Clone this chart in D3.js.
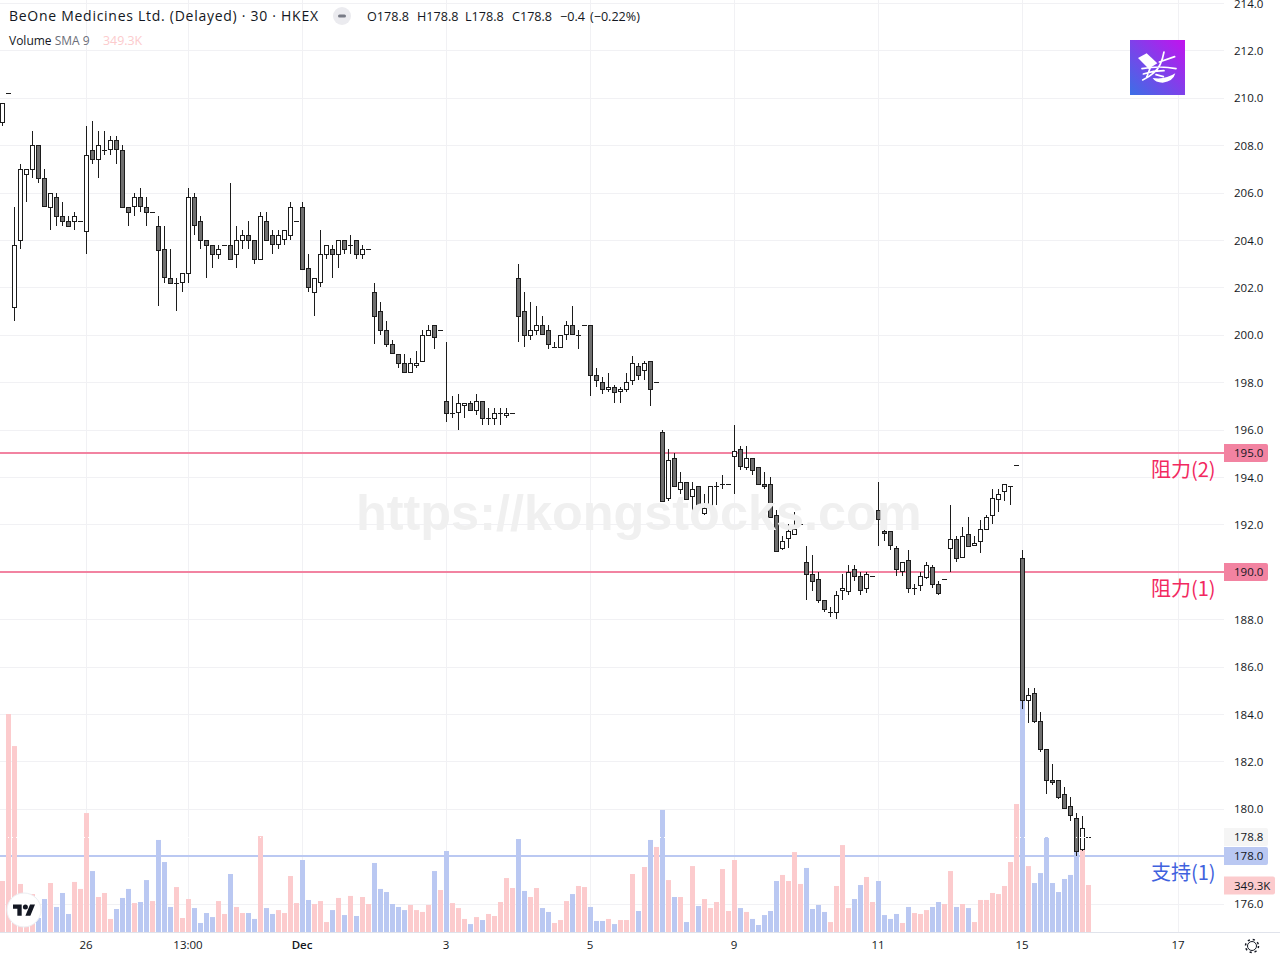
<!DOCTYPE html>
<html>
<head>
<meta charset="utf-8">
<title>BeOne Medicines 30m</title>
<script src="https://cdn.jsdelivr.net/npm/d3@7"></script>
<style>
  html, body { margin: 0; background: #fff; overflow: hidden; }
  text { font-family: "Open Sans", "Noto Sans", sans-serif; }
</style>
</head>
<body>
<script>
// 30 minute bars, index 0..181
const opens = [
  209.0,210.2,201.2,204.0,206.8,207.0,208.0,206.6,205.4,205.8,
  205.0,204.8,204.8,204.8,204.4,207.8,207.4,207.8,207.8,208.2,
  207.8,205.4,205.4,205.8,205.4,205.2,204.6,203.6,202.4,202.2,
  202.2,202.6,205.8,204.8,204.0,203.8,203.4,203.8,203.8,203.4,
  204.0,204.2,204.0,203.2,204.8,204.2,203.8,204.0,204.2,204.8,
  205.4,202.8,201.8,202.2,203.4,203.6,203.4,204.0,203.8,204.0,
  203.4,203.6,201.8,201.0,200.2,199.6,199.2,198.8,198.4,198.7,
  198.9,200.0,200.4,200.2,197.2,196.7,196.7,197.0,197.1,196.8,
  197.2,196.5,196.5,196.7,196.6,196.7,202.4,201.0,200.0,200.2,
  200.4,200.2,199.5,199.5,200.0,200.4,200.0,200.4,200.4,198.3,
  198.0,197.7,197.8,197.6,197.7,198.1,198.7,198.5,198.9,198.0,
  195.9,193.1,194.8,193.5,193.8,193.2,193.6,192.5,192.8,193.6,
  193.7,193.7,194.9,195.2,194.4,194.8,194.4,193.7,193.7,192.4,
  191.0,191.4,191.6,192.0,190.4,189.9,189.7,188.8,188.3,188.3,
  189.2,189.2,190.1,189.8,189.3,189.8,192.6,191.7,191.7,191.0,
  190.0,190.5,189.3,189.4,189.8,190.2,189.5,189.7,191.0,191.4,
  190.6,191.6,191.1,191.3,191.8,192.4,193.1,193.4,193.6,194.5,
  190.6,184.6,184.9,183.7,182.5,181.2,181.2,180.6,180.1,179.6,178.3,178.8
];
const highs = [
  209.8,210.2,205.4,207.2,207.0,208.6,208.0,207.0,206.0,206.0,
  205.6,205.0,205.2,204.8,208.8,209.0,208.6,208.6,208.4,208.4,
  208.0,205.4,206.0,206.2,205.8,205.2,205.0,204.6,203.6,202.4,
  202.6,206.2,206.0,205.0,204.0,203.8,203.8,203.8,206.4,204.6,
  204.4,204.8,204.0,205.2,205.2,204.4,204.4,204.4,205.6,204.8,
  205.6,203.4,202.4,204.4,203.8,203.8,204.0,204.0,204.2,204.0,
  203.8,203.6,202.2,201.4,200.6,199.8,199.2,199.2,199.0,199.3,
  200.2,200.4,200.4,200.2,199.7,197.4,197.5,197.1,197.2,197.5,
  197.2,196.9,196.9,196.9,196.9,196.7,203.0,201.8,201.4,201.2,
  200.8,200.4,199.7,200.0,200.6,201.2,200.2,200.4,200.4,198.6,
  198.2,198.4,197.9,197.8,198.4,199.1,198.8,198.9,198.9,198.0,
  196.0,195.2,195.0,194.2,193.8,193.8,193.6,193.3,193.6,193.8,
  194.1,193.7,196.2,195.3,195.3,194.8,194.4,194.2,194.0,192.6,
  191.5,192.0,192.5,192.0,191.1,190.7,190.0,188.8,188.5,189.2,
  189.9,190.3,190.3,190.0,190.0,189.8,193.8,191.8,191.7,191.1,
  190.4,190.9,189.5,190.0,190.4,190.3,189.6,189.7,192.8,191.5,
  191.9,192.3,191.5,192.2,192.4,193.5,193.5,193.7,193.6,194.5,
  190.9,185.1,185.1,184.1,182.5,181.9,181.2,180.9,180.5,179.8,179.7,178.8
];
const lows = [
  208.8,210.2,200.6,203.6,205.6,206.6,206.4,205.4,204.4,204.6,
  204.6,204.6,204.4,204.8,203.4,207.2,206.6,207.6,207.6,207.2,
  205.4,204.6,205.0,205.2,204.6,205.2,201.2,202.2,202.2,201.0,
  201.8,202.2,204.2,203.6,202.4,202.8,203.2,203.8,203.2,202.8,
  203.6,203.6,203.0,203.2,204.0,203.4,203.6,203.8,204.0,204.8,
  202.8,201.8,200.8,202.0,203.2,202.4,202.8,203.4,203.4,203.2,
  203.2,203.6,199.6,200.0,199.5,199.2,198.6,198.4,198.4,198.6,
  198.9,200.0,199.4,200.2,196.3,196.5,196.0,196.5,196.8,196.6,
  196.2,196.2,196.2,196.2,196.5,196.7,199.7,199.5,199.8,200.0,
  200.0,199.4,199.5,199.5,199.8,200.0,199.4,200.4,197.4,197.8,
  197.5,197.6,197.1,197.1,197.6,197.9,198.1,198.1,197.0,198.0,
  193.0,193.0,193.6,193.3,193.1,192.3,192.6,192.4,192.6,192.8,
  193.5,193.7,193.3,194.3,194.3,194.1,193.7,193.5,192.3,190.9,
  190.9,191.0,191.6,192.0,188.8,189.2,188.7,188.3,188.1,188.0,
  188.8,189.0,189.6,189.0,189.1,189.8,191.1,191.3,190.9,189.8,
  189.8,189.1,189.0,189.2,189.7,189.3,189.0,189.7,190.0,190.4,
  190.6,191.1,191.1,190.8,191.8,192.0,192.5,193.0,192.8,194.5,
  184.2,183.6,183.6,182.4,180.6,181.0,180.4,180.0,179.5,178.0,178.2,178.8
];
const closes = [
  209.8,210.2,203.8,207.0,207.0,208.0,206.6,205.4,206.0,205.0,
  204.8,204.6,205.0,204.8,207.6,207.4,208.0,207.8,208.2,207.8,
  205.4,205.2,205.8,205.4,205.2,205.2,203.6,202.4,202.2,202.2,
  202.6,205.8,204.6,204.0,203.8,203.4,203.6,203.8,203.2,204.0,
  204.2,204.0,203.2,205.0,204.0,203.8,204.2,204.4,205.4,204.8,
  202.8,202.0,202.4,203.4,203.8,203.4,204.0,203.6,203.8,203.4,
  203.6,203.6,200.8,200.2,199.6,199.2,198.8,198.4,198.8,198.8,
  200.0,200.2,199.9,200.2,196.7,196.7,197.1,197.1,196.8,197.2,
  196.5,196.5,196.7,196.7,196.7,196.7,200.8,200.0,200.2,200.4,
  200.0,199.6,199.5,200.0,200.4,200.0,200.0,200.4,198.3,198.1,
  197.7,197.8,197.6,197.7,198.0,198.8,198.3,198.8,197.7,198.0,
  193.0,194.7,193.6,193.8,193.1,193.5,192.8,192.7,193.6,193.6,
  193.7,193.7,195.1,194.5,194.8,194.3,193.7,193.6,192.3,190.9,
  191.3,191.7,191.8,192.0,189.9,189.6,188.8,188.4,188.3,189.0,
  189.3,190.0,189.8,189.2,189.9,189.8,192.2,191.6,191.1,190.1,
  190.4,189.3,189.3,189.8,190.3,189.5,189.1,189.7,191.4,190.6,
  191.5,191.1,191.2,191.8,192.3,193.1,193.3,193.7,193.6,194.5,
  184.6,184.8,183.7,182.5,181.2,181.1,180.5,180.0,179.7,178.2,179.2,178.8
];
// volume in thousands
const volumes = [
  379,1620,1382,357,248,282,104,245,364,186,
  290,134,372,320,884,453,260,290,97,171,
  253,320,215,223,386,230,684,520,186,334,
  104,245,178,67,141,111,230,134,431,186,
  141,141,97,713,178,134,163,141,416,215,
  535,238,208,230,74,163,253,126,268,119,
  260,208,513,320,297,208,186,163,201,163,
  149,201,453,312,602,215,178,97,59,111,
  89,134,119,223,401,327,691,305,260,327,
  178,149,67,89,230,282,342,334,186,82,
  82,97,59,89,89,431,156,483,684,632,
  907,386,260,260,74,490,193,245,178,223,
  468,156,535,178,149,97,52,126,156,379,
  424,379,594,357,476,171,201,149,74,342,
  646,178,245,349,409,223,379,126,97,134,
  67,186,141,134,163,186,223,208,453,186,
  208,178,74,238,238,290,282,342,520,951,
  1724,490,364,438,706,364,297,394,424,594,612,349.3
];

const priceTicks = [214,212,210,208,206,204,202,200,198,196,194,192,190,188,186,184,182,180,178,176];
const timeTickBars = [14,31,50,74,98,122,146,170,196];
const timeTickLabels = ['26','13:00','Dec','3','5','9','11','15','17'];
const resistance = [195, 190];
const support = [178];
const lastClose = 178.8;
const lastVolume = 349.3;
const legendParts = ['O178.8', 'H178.8', 'L178.8', 'C178.8', '−0.4', '(−0.22%)'];
const legendLeft = [367, 417, 465, 512, 560, 590];

const w = 1280, h = 960, plotRight = 1224, plotBottom = 932;
const upFill = '#ffffff', downFill = '#6f6f6f', edge = '#1c1c1c';
const pink = '#fccbcd', blue = '#bac8f2', red = '#f283a1';

const x = d3.scaleLinear().domain([0, 181]).range([2.5, 1088.5]);
const y = d3.scaleLinear().domain([214, 176]).range([3, 903.5]);
const v = d3.scaleLinear().domain([0, lastVolume]).range([plotBottom, 885]);
const snap = p => Math.round(p) + 0.5;

const svg = d3.select('body').append('svg')
  .attr('width', w)
  .attr('height', h)
  .style('display', 'block');

const defs = svg.append('defs');
const grad = defs.append('linearGradient')
  .attr('id', 'logoGrad')
  .attr('x1', '0').attr('y1', '1').attr('x2', '1').attr('y2', '0');
grad.append('stop').attr('offset', '0').attr('stop-color', '#3b6fe6');
grad.append('stop').attr('offset', '1').attr('stop-color', '#c312ee');
defs.append('clipPath').attr('id', 'plot')
  .append('rect').attr('width', plotRight).attr('height', plotBottom);

// grid
const grid = svg.append('g').attr('stroke', '#f1f1f4').attr('stroke-width', 1);
grid.selectAll('line.h').data(priceTicks).join('line')
  .attr('class', 'h')
  .attr('x1', 0).attr('x2', plotRight)
  .attr('y1', d => snap(y(d))).attr('y2', d => snap(y(d)));
grid.selectAll('line.v').data(timeTickBars).join('line')
  .attr('class', 'v')
  .attr('x1', d => x(d)).attr('x2', d => x(d))
  .attr('y1', 0).attr('y2', plotBottom);

const plot = svg.append('g').attr('clip-path', 'url(#plot)');

// support / resistance
plot.selectAll('line.res').data(resistance).join('line')
  .attr('class', 'res')
  .attr('x1', 0).attr('x2', plotRight)
  .attr('y1', d => Math.round(y(d))).attr('y2', d => Math.round(y(d)))
  .attr('stroke', red).attr('stroke-width', 2);
plot.selectAll('line.sup').data(support).join('line')
  .attr('class', 'sup')
  .attr('x1', 0).attr('x2', plotRight)
  .attr('y1', d => Math.round(y(d))).attr('y2', d => Math.round(y(d)))
  .attr('stroke', blue).attr('stroke-width', 2);

const bars = d3.range(opens.length);

// volume
plot.selectAll('rect.vol').data(bars).join('rect')
  .attr('class', 'vol')
  .attr('x', i => x(i) - 2.5)
  .attr('width', 5)
  .attr('y', i => v(volumes[i]))
  .attr('height', i => plotBottom - v(volumes[i]))
  .attr('fill', i => closes[i] >= opens[i] ? pink : blue);

// candles
plot.selectAll('line.wick').data(bars.filter(i => highs[i] !== lows[i])).join('line')
  .attr('class', 'wick')
  .attr('x1', i => x(i)).attr('x2', i => x(i))
  .attr('y1', i => Math.round(y(highs[i]))).attr('y2', i => Math.round(y(lows[i])))
  .attr('stroke', edge);
plot.selectAll('rect.body').data(bars.filter(i => opens[i] !== closes[i])).join('rect')
  .attr('class', 'body')
  .attr('x', i => x(i) - 2)
  .attr('width', 4)
  .attr('y', i => snap(y(Math.max(opens[i], closes[i]))))
  .attr('height', i => Math.max(1, Math.round(Math.abs(y(opens[i]) - y(closes[i])))))
  .attr('fill', i => closes[i] > opens[i] ? upFill : downFill)
  .attr('stroke', edge);
plot.selectAll('line.doji').data(bars.filter(i => opens[i] === closes[i])).join('line')
  .attr('class', 'doji')
  .attr('x1', i => x(i) - 2.5).attr('x2', i => x(i) + 2.5)
  .attr('y1', i => snap(y(opens[i]))).attr('y2', i => snap(y(opens[i])))
  .attr('stroke', edge);

// watermark sits on top of the candles
svg.append('text')
  .attr('x', 356).attr('y', 530)
  .attr('font-size', 50.4)
  .attr('font-weight', 700)
  .style('font-family', '"Liberation Sans", sans-serif')
  .attr('fill', '#f0f0f0')
  .text('https://kongstocks.com');

// last price line
plot.append('line')
  .attr('x1', 0).attr('x2', plotRight)
  .attr('y1', snap(y(lastClose))).attr('y2', snap(y(lastClose)))
  .attr('stroke', '#fff').attr('stroke-dasharray', '1 3');

// bottom edge
svg.append('line')
  .attr('x1', 0).attr('x2', w)
  .attr('y1', plotBottom + 0.5).attr('y2', plotBottom + 0.5)
  .attr('stroke', '#e0e3eb');

// axes
const yAxis = d3.axisRight(y)
  .tickValues(priceTicks.filter(d => !resistance.includes(d) && !support.includes(d)))
  .tickFormat(d3.format('.1f'))
  .tickSize(0).tickPadding(10);
const gy = svg.append('g').attr('transform', `translate(${plotRight},0)`).call(yAxis);
const xAxis = d3.axisBottom(x)
  .tickValues(timeTickBars)
  .tickFormat((d, i) => timeTickLabels[i])
  .tickSize(0).tickPadding(9);
const gx = svg.append('g').attr('transform', `translate(-1,${plotBottom})`).call(xAxis);
for (const g of [gy, gx]) {
  g.select('.domain').remove();
  g.selectAll('text')
    .attr('fill', '#131722')
    .attr('font-size', 11.5)
    .style('font-family', '"Open Sans", sans-serif');
}
gy.selectAll('text').attr('dy', '0.36em');
gx.selectAll('text').filter((d, i) => timeTickLabels[i] === 'Dec').attr('font-weight', 600);

// price tags on the axis
const tags = [
  {p: resistance[0], c: red, t: '195.0'},
  {p: resistance[1], c: red, t: '190.0'},
  {p: lastClose, c: '#f5f5f5', t: '178.8'},
  {p: support[0], c: blue, t: '178.0'}
];
const tag = svg.selectAll('g.tag').data(tags).join('g').attr('class', 'tag')
  .attr('transform', d => `translate(${plotRight},${Math.round(y(d.p))})`);
tag.append('path')
  .attr('d', 'M0,-9H42a2,2 0 0 1 2,2V7a2,2 0 0 1 -2,2H0Z')
  .attr('fill', d => d.c);
tag.append('text')
  .attr('x', 10).attr('y', 4)
  .attr('font-size', 11.5)
  .attr('fill', '#131722')
  .text(d => d.t);
const volTag = svg.append('g').attr('transform', `translate(${plotRight},${v(lastVolume) + 0.5})`);
volTag.append('path')
  .attr('d', 'M0,-9H49a2,2 0 0 1 2,2V7a2,2 0 0 1 -2,2H0Z')
  .attr('fill', pink);
volTag.append('text')
  .attr('x', 10).attr('y', 4)
  .attr('font-size', 11.5)
  .attr('fill', '#131722')
  .text('349.3K');

// line labels
const notes = [
  {x: 1151, y: 477, t: '阻力(2)', c: '#f2285f'},
  {x: 1151, y: 596, t: '阻力(1)', c: '#f2285f'},
  {x: 1151, y: 880, t: '支持(1)', c: '#3f62de'}
];
svg.selectAll('text.note').data(notes).join('text')
  .attr('class', 'note')
  .attr('x', d => d.x).attr('y', d => d.y)
  .attr('font-size', 20)
  .style('font-family', '"Noto Sans CJK SC", sans-serif')
  .style('font-weight', 400)
  .attr('fill', d => d.c)
  .text(d => d.t);

// header
svg.append('text')
  .attr('x', 9).attr('y', 21)
  .attr('font-size', 14)
  .attr('fill', '#131722')
  .attr('textLength', 309)
  .text('BeOne Medicines Ltd. (Delayed) · 30 · HKEX');
svg.append('circle').attr('cx', 342).attr('cy', 16).attr('r', 9).attr('fill', '#ebebef');
svg.append('rect').attr('x', 338).attr('y', 14.5).attr('width', 8).attr('height', 3).attr('rx', 1.5).attr('fill', '#787b86');
svg.selectAll('text.legend').data(legendParts).join('text')
  .attr('class', 'legend')
  .attr('x', (d, i) => legendLeft[i]).attr('y', 21)
  .attr('font-size', 12.6)
  .attr('fill', '#131722')
  .text(d => d);
const sub = svg.append('text')
  .attr('x', 9).attr('y', 45)
  .attr('font-size', 12)
  .attr('fill', '#131722');
sub.append('tspan').text('Volume ');
sub.append('tspan').attr('fill', '#6a6d78').text('SMA 9');
svg.append('text')
  .attr('x', 103).attr('y', 45)
  .attr('font-size', 12.4)
  .attr('fill', pink)
  .text('349.3K');

// channel logo, brush strokes traced by eye
const logo = svg.append('g').attr('transform', 'translate(1120,0) scale(0.3333)');
logo.append('rect')
  .attr('x', 30).attr('y', 120).attr('width', 165).attr('height', 165)
  .attr('fill', 'url(#logoGrad)');
logo.append('path').attr('fill', '#fff')
  .attr('d', 'M54,174 L80,160 L112,190 L86,206 Z');
logo.append('path').attr('fill', '#fff')
  .attr('d', 'M98,234 Q135,240 166,220 Q160,244 128,248 Q106,248 98,234 Z');
logo.append('path')
  .attr('fill', 'none').attr('stroke', '#fff').attr('stroke-width', 5).attr('stroke-linecap', 'round')
  .attr('d', 'M164,170 L118,186 M132,156 Q124,200 102,218 Q86,232 68,240 M66,206 Q120,196 168,206 M70,222 Q100,212 132,212 M92,200 L80,232 M108,224 L130,230');

// tradingview badge
const badge = svg.append('g').attr('transform', 'translate(24,910)');
badge.append('circle').attr('r', 17).attr('fill', '#fff').attr('stroke', '#eceef2');
badge.append('path')
  .attr('transform', 'translate(-11,-8) scale(0.62)')
  .attr('fill', '#131722')
  .attr('d', 'M14 22H7V11H0V4h14v18zM28 22h-8l7.5-18h8L28 22z');
badge.append('circle')
  .attr('cx', 1.4).attr('cy', -3).attr('r', 2.5).attr('fill', '#131722');

// settings gear
const gear = svg.append('g').attr('transform', 'translate(1252,946)')
  .attr('fill', 'none').attr('stroke', '#131722');
gear.append('circle').attr('r', 4.5);
gear.append('circle').attr('r', 6.5).attr('stroke-width', 1.5).attr('stroke-dasharray', '2.2 2.9');
</script>
</body>
</html>
